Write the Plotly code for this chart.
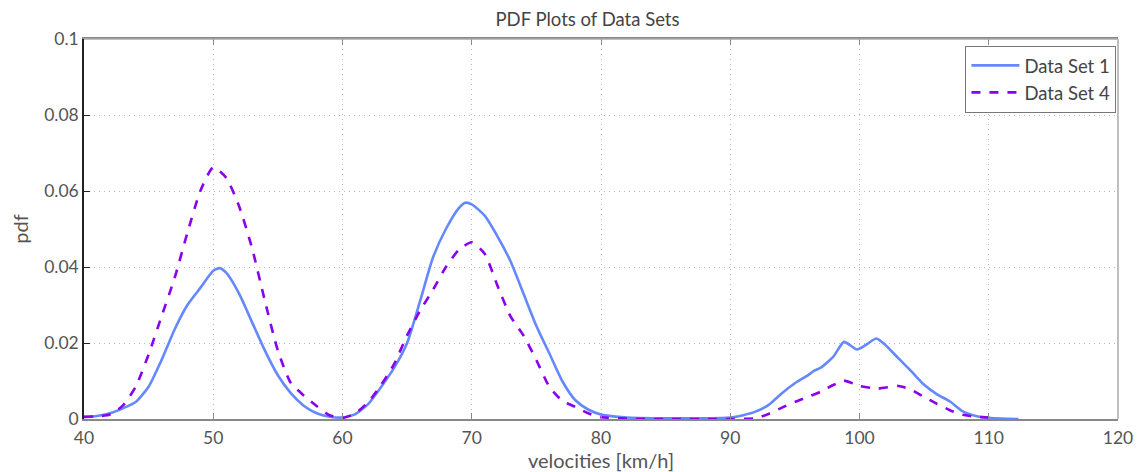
import plotly.graph_objects as go

x1 = [40, 41, 42, 43, 44, 45, 46, 47, 48, 49, 50, 50.5, 51, 52, 53, 54, 55, 56, 57, 58, 59, 60,
      61, 62, 63, 64, 65, 66, 67, 68, 69, 69.5, 70, 71, 72, 73, 74, 75, 76, 77, 78, 79, 80,
      82, 85, 88, 90, 91, 92, 93, 94, 95, 96, 96.5, 97, 98, 98.8, 99.8, 100.5, 101.3, 102,
      103, 104, 105, 106, 107, 108, 109, 110, 111, 112.3]
y1 = [0.0005, 0.0008, 0.0015, 0.0028, 0.0045, 0.0085, 0.0155, 0.0235, 0.030, 0.0345, 0.039,
      0.0397, 0.0385, 0.033, 0.0255, 0.018, 0.0115, 0.0068, 0.0035, 0.0015, 0.0006, 0.0004,
      0.0013, 0.004, 0.0085, 0.0135, 0.020, 0.031, 0.0425, 0.050, 0.0555, 0.0569, 0.0565,
      0.0535, 0.048, 0.0415, 0.033, 0.0245, 0.0173, 0.010, 0.005, 0.0025, 0.0012,
      0.0004, 0.0002, 0.0002, 0.0004, 0.001, 0.002, 0.0038, 0.0068, 0.0094, 0.0115, 0.0127,
      0.0135, 0.0165, 0.0203, 0.0183, 0.0195, 0.0212, 0.0195, 0.016, 0.0126, 0.009, 0.0065,
      0.0046, 0.002, 0.0008, 0.0003, 0.0001, 0.0]

x4 = [40, 41, 42, 43, 44, 45, 46, 47, 48, 49, 50, 51, 52, 53, 54, 55, 56, 57, 58, 59, 60,
      61, 62, 63, 64, 65, 66, 67, 68, 69, 70, 71, 72, 73, 74, 75, 76, 77, 78, 79, 80,
      82, 85, 90, 92, 93, 94, 95, 96, 97, 98, 98.8, 100, 101.4, 103, 104, 105, 106, 107,
      108, 109, 110, 110.5]
y4 = [0.0006, 0.0007, 0.0012, 0.0035, 0.0085, 0.017, 0.027, 0.037, 0.049, 0.060, 0.0662,
      0.0635, 0.056, 0.045, 0.031, 0.018, 0.0095, 0.0062, 0.0034, 0.001, 0.0003,
      0.0015, 0.0045, 0.009, 0.0145, 0.022, 0.0285, 0.034, 0.040, 0.0445, 0.0465, 0.0435,
      0.035, 0.027, 0.022, 0.0155, 0.0085, 0.0048, 0.0032, 0.0015, 0.0005,
      0.0001, 0.0, 0.0, 0.0002, 0.0014, 0.003, 0.0045, 0.0058, 0.0072, 0.009, 0.0101,
      0.0087, 0.008, 0.0087, 0.0077, 0.0058, 0.004, 0.0023, 0.0011, 0.0006, 0.0004, 0.0003]

names = ["Data Set 1", "Data Set 4"]
title = "PDF Plots of Data Sets"
xlabel = "velocities [km/h]"
ylabel = "pdf"

FONT = "Lato"
W, H = 1135, 464  # page body has an 8px margin

fig = go.Figure()
fig.add_trace(go.Scatter(x=x1, y=y1, mode="lines", name=names[0],
                         line=dict(color="#6688ff", width=2.6, shape="spline", smoothing=0.6)))
fig.add_trace(go.Scatter(x=x4, y=y4, mode="lines", name=names[1],
                         line=dict(color="#8800ee", width=2.6, dash="dash", shape="spline", smoothing=0.6)))

fig.update_layout(
    width=W, height=H,
    margin=dict(l=72, r=25, t=31, b=53),
    paper_bgcolor="white", plot_bgcolor="white",
    font=dict(family=FONT, color="#555555"),
    title=dict(text=title, x=579.5 / W, xanchor="center", xref="container",
               yref="paper", y=1, yanchor="bottom", pad=dict(t=0, b=13),
               font=dict(size=18.5, color="#444444", family=FONT)),
    legend=dict(x=0.9985, xanchor="right", y=0.982, yanchor="top",
                bordercolor="#777777", borderwidth=1, bgcolor="white",
                font=dict(size=18.5, color="#444444", family=FONT),
                itemwidth=48,
                tracegroupgap=0),
    showlegend=True,
)
fig.update_xaxes(range=[40, 120], dtick=10, tick0=40, automargin=False,
                 showgrid=True, gridcolor="#b8b8b8", griddash="1px,4px", gridwidth=1,
                 showline=True, linecolor="#888888", linewidth=1.5, mirror="ticks",
                 ticks="inside", ticklen=6, tickcolor="#888888",
                 ticklabelstandoff=2,
                 tickfont=dict(size=17.5, color="#555555"),
                 title=dict(text=xlabel, font=dict(size=20, color="#555555"), standoff=0),
                 zeroline=False)
fig.update_yaxes(range=[0, 0.1], dtick=0.02, tick0=0,
                 showgrid=True, gridcolor="#b8b8b8", griddash="1px,4px", gridwidth=1,
                 showline=True, linecolor="#222222", linewidth=1.5,
                 ticks="inside", ticklen=6, tickcolor="#222222",
                 tickfont=dict(size=17.5, color="#555555"),
                 title=dict(text=ylabel, font=dict(size=20, color="#555555"), standoff=10),
                 zeroline=False)
fig.add_shape(type="line", xref="paper", yref="paper", x0=1, x1=1, y0=0, y1=1,
              line=dict(color="#aaaaaa", width=1.5))
fig.add_shape(type="line", xref="paper", yref="paper", x0=0, x1=1, y0=1, y1=1,
              line=dict(color="#aaaaaa", width=1.5))

fig.write_html("out.html")
